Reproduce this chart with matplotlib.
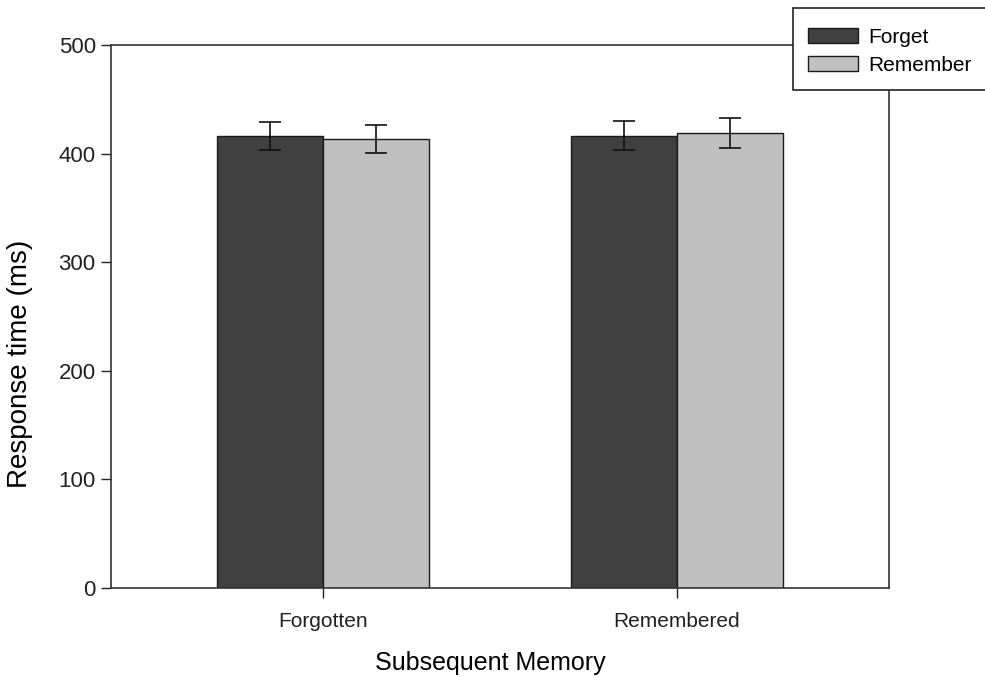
import matplotlib
matplotlib.use("Agg")
import matplotlib.pyplot as plt
from matplotlib.patches import Rectangle
import numpy as np

plt.rcParams['font.family'] = ['Liberation Sans', 'DejaVu Sans']

categories = ["Forgotten", "Remembered"]
series_names = ["Forget", "Remember"]
forget_vals = [416, 416.5]
remember_vals = [413.5, 419]
forget_err = [13, 13.5]
remember_err = [13, 13.8]
yticks = [0, 100, 200, 300, 400, 500]

fig = plt.figure(figsize=(9.85, 6.77), dpi=100)
ax = fig.add_axes([111/985, 1-588/677, (889-111)/985, (588-45)/677])

x = np.arange(len(categories))
w = 0.3
ax.bar(x - w/2, forget_vals, w, color="#404040", edgecolor="#1a1a1a", linewidth=1.0,
       label=series_names[0], zorder=2)
ax.bar(x + w/2, remember_vals, w, color="#c0c0c0", edgecolor="#1a1a1a", linewidth=1.0,
       label=series_names[1], zorder=2)
ax.errorbar(x - w/2, forget_vals, yerr=forget_err, fmt='none', ecolor="#111111",
            elinewidth=1.2, capsize=8, capthick=1.2, zorder=3)
ax.errorbar(x + w/2, remember_vals, yerr=remember_err, fmt='none', ecolor="#111111",
            elinewidth=1.2, capsize=8, capthick=1.2, zorder=3)

ax.set_xlim(-0.6, 1.6)
ax.set_ylim(0, 500)
ax.set_yticks(yticks)
ax.set_xticks(x)
ax.set_xticklabels(categories, fontsize=15)
ax.tick_params(axis='y', labelsize=16, direction='out', length=7, width=1, colors='#222222', pad=4)
ax.tick_params(axis='x', direction='out', length=7, width=1, colors='#222222', pad=10)
for sp in ax.spines.values():
    sp.set_color('#333333')
    sp.set_linewidth(1.2)

ax.set_ylabel("Response time (ms)", fontsize=20)
ax.yaxis.set_label_coords((20 - 111) / 778, (588 - 364) / 543)
ax.set_xlabel("Subsequent Memory", fontsize=18)
ax.xaxis.set_label_coords((490 - 111) / 778, (588 - 663) / 543)
ax.xaxis.label.set_va('center')
ax.yaxis.label.set_va('center')

# legend frame (opaque, extends to the right edge)
frame = Rectangle((793/985, 1-90/677), (990-793)/985, (90-8)/677, transform=fig.transFigure,
                  facecolor='white', edgecolor='#222222', linewidth=1.2, zorder=9)
fig.patches.append(frame)

leg = fig.legend(loc='upper left', bbox_to_anchor=(793/985, 1-13/677), fontsize=15,
                 frameon=False, handlelength=2.4, handleheight=0.72, borderpad=0.7,
                 labelspacing=0.45, handletextpad=0.5, borderaxespad=0)
leg.set_zorder(10)

fig.savefig("out.png", dpi=100)
